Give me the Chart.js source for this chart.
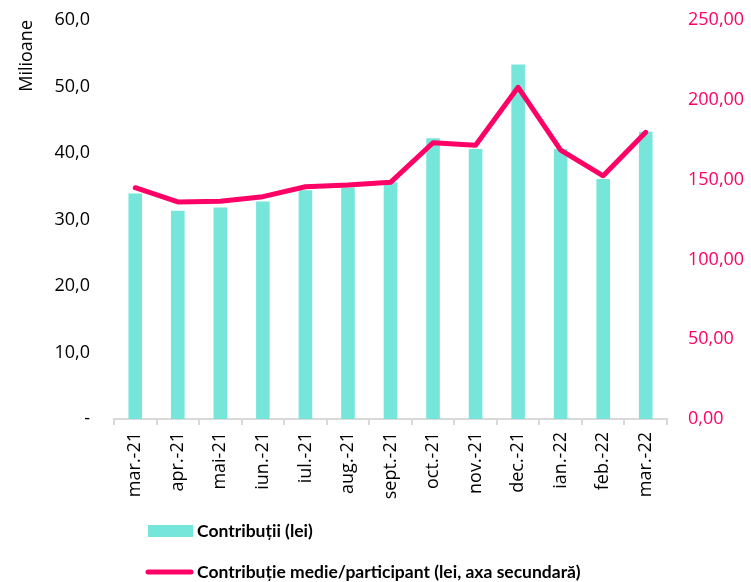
<!DOCTYPE html>
<html>
<head>
<meta charset="utf-8">
<script src="https://cdn.jsdelivr.net/npm/chart.js@4"></script>
<style>
  body { margin: 0; background: #fff; }
</style>
</head>
<body>
<canvas id="chart" width="751" height="582"></canvas>
<script>
// data
const months = ["mar.-21", "apr.-21", "mai-21", "iun.-21", "iul.-21", "aug.-21", "sept.-21",
                "oct.-21", "nov.-21", "dec.-21", "ian.-22", "feb.-22", "mar.-22"];
const contributii = [33.9, 31.3, 31.8, 32.7, 34.4, 34.8, 35.6, 42.2, 40.6, 53.3, 40.6, 36.1, 43.2];
const medieParticipant = [144.9, 136.0, 136.4, 139.3, 145.5, 146.6, 148.3, 173.1, 171.5, 207.8, 168.5, 152.4, 179.6];
const leftTicks = { min: 0, max: 60, step: 10 };
const rightTicks = { min: 0, max: 250, step: 50 };

const barColor = "#76E6DA";
const lineColor = "#FF0066";
const tickFont = { family: "'Open Sans', sans-serif", size: 18 };

// legend drawn below the axis, one item per row
const bottomLegend = {
  id: "bottomLegend",
  afterDraw(chart) {
    const ctx = chart.ctx;
    const ds = chart.data.datasets;
    ctx.save();
    ctx.font = "bold 17.5px Lato, sans-serif";
    ctx.textBaseline = "middle";
    ctx.textAlign = "left";
    // bar item
    ctx.fillStyle = ds[0].backgroundColor;
    ctx.fillRect(148, 525, 45, 12);
    ctx.fillStyle = "#000";
    ctx.fillText(ds[0].label, 197, 531);
    // line item
    ctx.strokeStyle = ds[1].borderColor;
    ctx.lineWidth = 5;
    ctx.lineCap = "round";
    ctx.beginPath();
    ctx.moveTo(148, 572);
    ctx.lineTo(191, 572);
    ctx.stroke();
    ctx.fillText(ds[1].label, 197, 572);
    ctx.restore();
  }
};

function fmt(v, d) {
  return v.toFixed(d).replace(".", ",");
}

new Chart(document.getElementById("chart").getContext("2d"), {
  type: "bar",
  data: {
    labels: months,
    datasets: [
      {
        type: "bar",
        label: "Contribuții (lei)",
        data: contributii,
        backgroundColor: barColor,
        yAxisID: "y",
        barPercentage: 0.32,
        categoryPercentage: 1,
        order: 1
      },
      {
        type: "line",
        label: "Contribuție medie/participant (lei, axa secundară)",
        data: medieParticipant,
        borderColor: lineColor,
        backgroundColor: lineColor,
        borderWidth: 5,
        borderCapStyle: "round",
        borderJoinStyle: "round",
        pointRadius: 0,
        tension: 0,
        yAxisID: "y1",
        order: 0
      }
    ]
  },
  options: {
    responsive: false,
    animation: false,
    layout: { padding: { top: 20, left: 0, right: 0, bottom: 0 } },
    plugins: {
      legend: { display: false },
      tooltip: { enabled: false },
      title: { display: false }
    },
    scales: {
      x: {
        offset: true,
        grid: {
          display: true,
          drawOnChartArea: false,
          offset: true,
          tickLength: 6,
          color: "#d9d9d9",
          lineWidth: 2
        },
        border: { display: true, color: "#d9d9d9", width: 2 },
        ticks: {
          minRotation: 90,
          maxRotation: 90,
          padding: 7,
          color: "#000",
          font: tickFont,
          autoSkip: false
        },
        afterFit(scale) { scale.height = 163; }
      },
      y: {
        position: "left",
        min: leftTicks.min,
        max: leftTicks.max,
        // ticks hidden, their length only pushes the labels away from the axis
        grid: { display: false, drawTicks: true, tickLength: 21 },
        border: { display: false },
        ticks: {
          stepSize: leftTicks.step,
          padding: 3,
          color: "#000",
          font: tickFont,
          callback: v => v === 0 ? "-" : fmt(v, 1)
        },
        title: {
          display: true,
          text: "Milioane",
          align: "end",
          color: "#000",
          font: tickFont,
          padding: { top: 16, bottom: 0 }
        },
        afterFit(scale) { scale.width = 114; }
      },
      y1: {
        position: "right",
        min: rightTicks.min,
        max: rightTicks.max,
        grid: { display: false, drawTicks: true, tickLength: 18 },
        border: { display: false },
        ticks: {
          stepSize: rightTicks.step,
          padding: 3,
          color: lineColor,
          font: tickFont,
          callback: v => fmt(v, 2)
        },
        afterFit(scale) { scale.width = 84; }
      }
    }
  },
  plugins: [bottomLegend]
});
</script>
</body>
</html>
